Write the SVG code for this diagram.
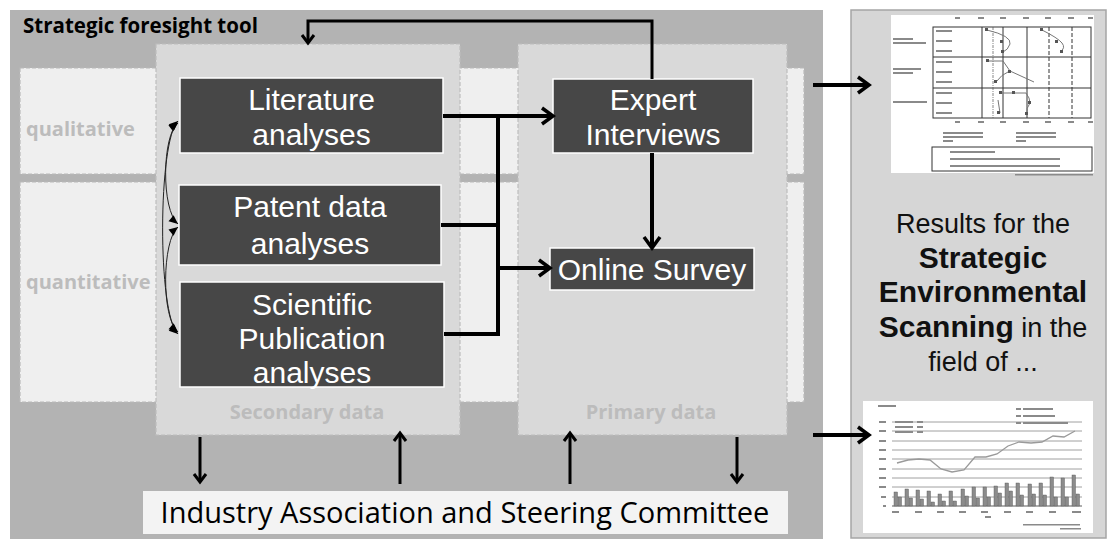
<svg xmlns="http://www.w3.org/2000/svg" width="1109" height="543" viewBox="0 0 1109 543">
<style>
.node rect{fill:#474747;stroke:#ffffff;stroke-width:1.5}
.node text{font-family:"Liberation Sans",Arial,sans-serif;font-size:30px;fill:#ffffff;text-anchor:middle}
.strip{fill:#efefef;stroke:#b9b9b9;stroke-width:1.2;stroke-dasharray:4 2}
.area{fill:#d9d9d9;stroke:#bdbdbd;stroke-width:1.2;stroke-dasharray:4 2}
.lbl{font-family:"Open Sans","Liberation Sans",sans-serif;font-weight:bold;font-size:20px;fill:#bcbcbc}
.conn{fill:none;stroke:#000;stroke-width:4}
.connS{fill:none;stroke:#000;stroke-width:3}
.thin{fill:none;stroke:#222;stroke-width:1}
.res{font-family:"Liberation Sans",Arial,sans-serif;font-size:27px;fill:#111;text-anchor:middle}
.resb{font-weight:bold;font-size:30px}
.tx{fill:#8a8a8a}
.grid{stroke:#333;stroke-width:1}
</style>
<defs>
<marker id="chev" markerUnits="userSpaceOnUse" markerWidth="22" markerHeight="20" refX="14" refY="9" orient="auto" overflow="visible"><path d="M3,1 L14,9 L3,17" fill="none" stroke="#000" stroke-width="3.5"/></marker>
<marker id="chevS" markerUnits="userSpaceOnUse" markerWidth="16" markerHeight="14" refX="10" refY="7" orient="auto" overflow="visible"><path d="M2,1 L10,7 L2,13" fill="none" stroke="#000" stroke-width="3"/></marker>
<marker id="tri" markerUnits="userSpaceOnUse" markerWidth="10" markerHeight="8" refX="9" refY="4" orient="auto-start-reverse" overflow="visible"><path d="M0,0 L9,4 L0,8 z" fill="#000"/></marker>
</defs>

<rect x="0" y="0" width="1109" height="543" fill="#ffffff"/>

<!-- main panel -->
<g id="main-panel">
<rect x="10" y="10" width="813" height="529" fill="#b3b3b3"/>
<text x="23" y="33" font-family="'Open Sans','Liberation Sans',sans-serif" font-weight="bold" font-size="20.5" fill="#000">Strategic foresight tool</text>
</g>

<g id="rows">
<rect class="strip" x="20" y="68" width="784" height="106"/>
<rect class="strip" x="20" y="182" width="784" height="220"/>
<text class="lbl" x="26" y="136">qualitative</text>
<text class="lbl" x="26" y="289">quantitative</text>
</g>

<g id="secondary-data">
<rect class="area" x="156" y="44" width="304" height="391"/>
<text class="lbl" x="307" y="419" text-anchor="middle">Secondary data</text>
</g>
<g id="primary-data">
<rect class="area" x="518" y="44" width="269" height="391"/>
<text class="lbl" x="651" y="419" text-anchor="middle">Primary data</text>
</g>

<g id="literature" class="node">
<rect x="180" y="78" width="263" height="75"/>
<text x="311.5" y="110">Literature</text>
<text x="311.5" y="145">analyses</text>
</g>
<g id="patent" class="node">
<rect x="179" y="185" width="262" height="80"/>
<text x="310" y="217">Patent data</text>
<text x="310" y="254">analyses</text>
</g>
<g id="scientific" class="node">
<rect x="180" y="282" width="264" height="105"/>
<text x="312" y="315" font-size="29">Scientific</text>
<text x="312" y="349" font-size="29">Publication</text>
<text x="312" y="383" font-size="29">analyses</text>
</g>
<g id="expert" class="node">
<rect x="553" y="79" width="200" height="74"/>
<text x="653" y="110">Expert</text>
<text x="653" y="145">Interviews</text>
</g>
<g id="online" class="node">
<rect x="550" y="248" width="204" height="42"/>
<text x="652" y="280">Online Survey</text>
</g>

<g id="committee">
<rect x="143" y="491" width="645" height="43" fill="#f3f3f3"/>
<text x="465" y="523" text-anchor="middle" font-family="'Open Sans','Liberation Sans',sans-serif" font-size="29" fill="#000">Industry Association and Steering Committee</text>
</g>

<!-- right panel -->
<g id="results-panel">
<rect x="851" y="10" width="255" height="528" fill="#d6d6d6" stroke="#a5a5a5" stroke-width="1.5"/>
<text class="res" x="983" y="233">Results for the</text>
<text class="res resb" x="983" y="267.5">Strategic</text>
<text class="res resb" x="983" y="302">Environmental</text>
<text class="res" x="983" y="336.5"><tspan class="resb">Scanning</tspan> in the</text>
<text class="res" x="983" y="371">field of ...</text>
</g>

<g id="chart-top">
<rect x="891" y="15" width="203" height="158" fill="#ffffff"/>
<rect x="933" y="27" width="158" height="91" fill="none" stroke="#333" stroke-width="1"/>
<line class="grid" x1="933" y1="57" x2="1091" y2="57"/>
<line class="grid" x1="933" y1="88" x2="1091" y2="88"/>
<line class="grid" x1="982" y1="27" x2="982" y2="118"/>
<line class="grid" x1="1003" y1="27" x2="1003" y2="118"/>
<line class="grid" x1="1027" y1="27" x2="1027" y2="118"/>
<line class="grid" x1="1049" y1="27" x2="1049" y2="118" stroke-dasharray="4 2"/>
<line class="grid" x1="1072" y1="27" x2="1072" y2="118" stroke-dasharray="4 2"/>
<line x1="993" y1="27" x2="993" y2="118" stroke="#555" stroke-width="0.7" stroke-dasharray="3 1 1 1"/>
<g class="tx">
<rect x="955" y="17" width="5" height="2"/><rect x="978" y="17" width="6" height="2"/><rect x="1000" y="17" width="6" height="2"/><rect x="1023" y="17" width="6" height="2"/><rect x="1045" y="17" width="6" height="2"/><rect x="1068" y="17" width="6" height="2"/><rect x="1088" y="17" width="5" height="2"/>
<rect x="955" y="121" width="5" height="2"/><rect x="978" y="121" width="6" height="2"/><rect x="1000" y="121" width="6" height="2"/><rect x="1023" y="121" width="6" height="2"/><rect x="1045" y="121" width="6" height="2"/><rect x="1068" y="121" width="6" height="2"/><rect x="1088" y="121" width="5" height="2"/>
<rect x="893" y="38" width="20" height="2"/><rect x="893" y="42" width="33" height="2"/>
<rect x="893" y="68" width="28" height="2"/><rect x="893" y="72" width="20" height="2"/>
<rect x="893" y="101" width="34" height="2"/>
<rect x="936" y="30" width="16" height="2"/><rect x="936" y="40" width="16" height="2"/><rect x="936" y="50" width="16" height="2"/>
<rect x="936" y="61" width="16" height="2"/><rect x="936" y="71" width="16" height="2"/><rect x="936" y="81" width="16" height="2"/>
<rect x="936" y="92" width="16" height="2"/><rect x="936" y="102" width="16" height="2"/><rect x="936" y="112" width="16" height="2"/>
<rect x="943" y="132" width="40" height="2"/><rect x="943" y="136" width="40" height="2"/><rect x="943" y="140" width="10" height="2"/>
<rect x="1016" y="132" width="40" height="2"/><rect x="1016" y="136" width="40" height="2"/><rect x="1016" y="140" width="10" height="2"/>
<rect x="1015" y="174" width="78" height="1.5"/>
</g>
<g fill="none" stroke="#777" stroke-width="1">
<path d="M987,30 Q1012,36 1010,44 Q1008,50 1003,52"/>
<path d="M1042,30 Q1058,38 1062,43 Q1066,48 1060,52"/>
<path d="M988,61 L1003,61 L1010,71 L1034,82"/>
<path d="M996,82 Q1002,74 1008,72"/>
<path d="M1000,93 L1012,93 L1026,93 Q1030,98 1030,103 Q1026,108 1027,114"/>
<path d="M998,100 L1000,113"/>
</g>
<g fill="#555">
<rect x="985" y="28" width="3" height="3"/><rect x="1000" y="40" width="3" height="3"/><rect x="1001" y="50" width="3" height="3"/>
<rect x="1040" y="28" width="3" height="3"/><rect x="1055" y="40" width="3" height="3"/><rect x="1060" y="50" width="3" height="3"/>
<rect x="986" y="59" width="3" height="3"/><rect x="1008" y="70" width="3" height="3"/><rect x="994" y="80" width="3" height="3"/>
<rect x="999" y="91" width="3" height="3"/><rect x="1012" y="91" width="3" height="3"/><rect x="1028" y="101" width="3" height="3"/><rect x="1025" y="112" width="3" height="3"/><rect x="997" y="111" width="3" height="3"/>
</g>
<rect x="932" y="147" width="160" height="24" fill="none" stroke="#333" stroke-width="1"/>
<g class="tx">
<rect x="950" y="151" width="45" height="2"/><rect x="950" y="158" width="110" height="2"/><rect x="950" y="165" width="110" height="2"/>
</g>
</g>

<g id="chart-bottom">
<rect x="863" y="401" width="230" height="132" fill="#ffffff"/>
<g stroke="#888" stroke-width="0.8">
<line x1="892" y1="422" x2="1082" y2="422"/><line x1="892" y1="431" x2="1082" y2="431"/><line x1="892" y1="441" x2="1082" y2="441"/>
<line x1="892" y1="450" x2="1082" y2="450"/><line x1="892" y1="459" x2="1082" y2="459"/><line x1="892" y1="469" x2="1082" y2="469"/>
<line x1="892" y1="478" x2="1082" y2="478"/><line x1="892" y1="487" x2="1082" y2="487"/><line x1="892" y1="497" x2="1082" y2="497"/>
<line x1="892" y1="506" x2="1082" y2="506" stroke="#333"/>
</g>
<g fill="#8c8c8c" stroke="#555" stroke-width="0.4">
<rect x="894" y="492" width="3.5" height="14"/><rect x="898" y="497" width="3.5" height="9"/>
<rect x="905" y="489" width="3.5" height="17"/><rect x="909" y="498" width="3.5" height="8"/>
<rect x="916" y="490" width="3.5" height="16"/><rect x="920" y="499" width="3.5" height="7"/>
<rect x="927" y="491" width="3.5" height="15"/><rect x="931" y="502" width="3.5" height="4"/>
<rect x="938" y="494" width="3.5" height="12"/><rect x="942" y="501" width="3.5" height="5"/>
<rect x="949" y="491" width="3.5" height="15"/><rect x="953" y="501" width="3.5" height="5"/>
<rect x="961" y="489" width="3.5" height="17"/><rect x="965" y="496" width="3.5" height="10"/>
<rect x="972" y="487" width="3.5" height="19"/><rect x="976" y="498" width="3.5" height="8"/>
<rect x="983" y="487" width="3.5" height="19"/><rect x="987" y="497" width="3.5" height="9"/>
<rect x="994" y="486" width="3.5" height="20"/><rect x="998" y="493" width="3.5" height="13"/>
<rect x="1005" y="483" width="3.5" height="23"/><rect x="1009" y="491" width="3.5" height="15"/>
<rect x="1016" y="483" width="3.5" height="23"/><rect x="1020" y="495" width="3.5" height="11"/>
<rect x="1028" y="484" width="3.5" height="22"/><rect x="1032" y="494" width="3.5" height="12"/>
<rect x="1039" y="483" width="3.5" height="23"/><rect x="1043" y="495" width="3.5" height="11"/>
<rect x="1050" y="477" width="3.5" height="29"/><rect x="1054" y="497" width="3.5" height="9"/>
<rect x="1061" y="478" width="3.5" height="28"/><rect x="1065" y="497" width="3.5" height="9"/>
<rect x="1072" y="475" width="3.5" height="31"/><rect x="1076" y="494" width="3.5" height="12"/>
</g>
<polyline fill="none" stroke="#9a9a9a" stroke-width="1.3" points="897,463 908,460 919,459 930,460 941,469 952,472 964,470 975,457 986,457 997,454 1008,446 1019,442 1031,443 1042,442 1053,436 1064,437 1075,431"/>
<g class="tx">
<rect x="878" y="405" width="18" height="2"/>
<rect x="879" y="421" width="7" height="2"/><rect x="879" y="430" width="7" height="2"/><rect x="879" y="440" width="7" height="2"/><rect x="879" y="449" width="7" height="2"/><rect x="879" y="458" width="7" height="2"/><rect x="879" y="468" width="7" height="2"/><rect x="879" y="477" width="7" height="2"/><rect x="879" y="486" width="7" height="2"/><rect x="881" y="496" width="5" height="2"/><rect x="883" y="505" width="3" height="2"/>
<rect x="895" y="421" width="18" height="2"/><rect x="917" y="421" width="6" height="2"/>
<rect x="895" y="426" width="18" height="2"/><rect x="917" y="426" width="6" height="2"/>
<rect x="895" y="431" width="18" height="2"/><rect x="917" y="431" width="6" height="2"/>
<rect x="1016" y="408" width="5" height="2"/><rect x="1023" y="408" width="30" height="2"/>
<rect x="1016" y="415" width="5" height="2"/><rect x="1023" y="415" width="32" height="2"/>
<rect x="1016" y="422" width="5" height="2"/><rect x="1023" y="422" width="45" height="2"/>
<rect x="892" y="511" width="7" height="2"/><rect x="915" y="511" width="7" height="2"/><rect x="937" y="511" width="7" height="2"/><rect x="959" y="511" width="7" height="2"/><rect x="981" y="511" width="7" height="2"/><rect x="1004" y="511" width="7" height="2"/><rect x="1026" y="511" width="7" height="2"/><rect x="1049" y="511" width="7" height="2"/><rect x="1072" y="511" width="9" height="2"/>
<rect x="985" y="516" width="6" height="2"/>
<rect x="1023" y="524" width="57" height="1.5"/><rect x="1060" y="528" width="21" height="1.5"/>
</g>
</g>

<!-- connectors -->
<g id="connectors">
<path class="conn" d="M443,116 L553,116" marker-end="url(#chev)"/>
<path class="conn" d="M498,116 L498,334"/>
<path class="conn" d="M441,225 L498,225"/>
<path class="conn" d="M444,334 L500,334"/>
<path class="conn" d="M498,268 L550,268" marker-end="url(#chev)"/>
<path class="conn" d="M652,153 L652,248" marker-end="url(#chev)"/>
<path class="connS" d="M652,79 L652,21 L308,21 L308,43" marker-end="url(#chevS)"/>
<path class="conn" d="M813,85 L869,85" marker-end="url(#chev)"/>
<path class="conn" d="M813,435 L869,435" marker-end="url(#chev)"/>
<path class="connS" d="M200,437 L200,482" marker-end="url(#chevS)"/>
<path class="connS" d="M400,484 L400,433" marker-end="url(#chevS)"/>
<path class="connS" d="M570,484 L570,433" marker-end="url(#chevS)"/>
<path class="connS" d="M737,437 L737,482" marker-end="url(#chevS)"/>
<path class="thin" d="M178,123 C162,135 161,210 178,224" marker-start="url(#tri)" marker-end="url(#tri)"/>
<path class="thin" d="M178,227 C162,240 161,318 178,332" marker-start="url(#tri)" marker-end="url(#tri)"/>
<path class="thin" d="M178,121 C158,140 157,314 178,334" marker-start="url(#tri)" marker-end="url(#tri)"/>
</g>
</svg>
